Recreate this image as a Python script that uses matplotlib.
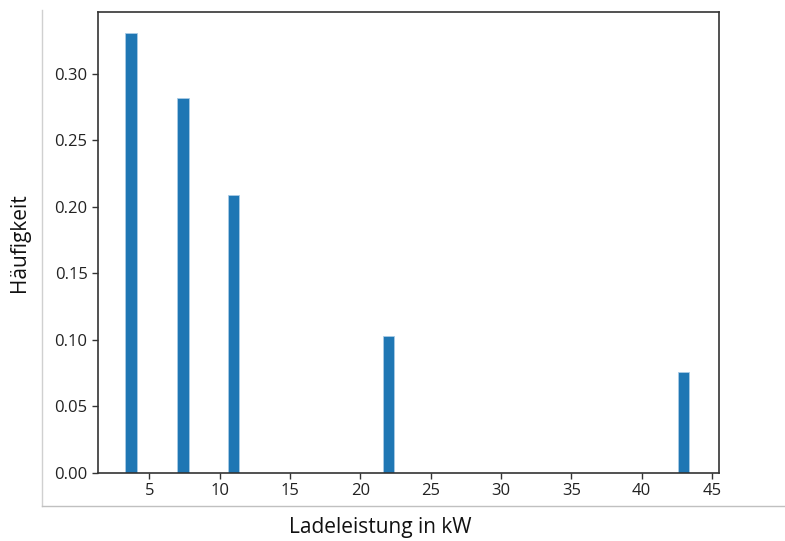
import matplotlib
matplotlib.use("Agg")
import matplotlib.pyplot as plt
from matplotlib.lines import Line2D

# Data
power_kw = [3.7, 7.4, 11, 22, 43]
frequency = [0.331, 0.282, 0.209, 0.103, 0.076]
x_ticks = [5, 10, 15, 20, 25, 30, 35, 40, 45]
y_ticks = [0.00, 0.05, 0.10, 0.15, 0.20, 0.25, 0.30]

fig = plt.figure(figsize=(7.85, 5.41), dpi=100)
ax = fig.add_axes([98/785, 1-473/541, (719-98)/785, (473-12)/541])
ax.bar(power_kw, frequency, width=0.8, color="#1f77b4", edgecolor="#a9cbe6", linewidth=0.6)
ax.set_xticks(x_ticks)
ax.set_yticks(y_ticks)
ax.set_yticklabels([f"{v:.2f}" for v in y_ticks])
ax.set_xlim(1.35, 45.5)
ax.set_ylim(0, 0.3466)
for lab in ax.get_xticklabels() + ax.get_yticklabels():
    lab.set_fontfamily("Open Sans")
    lab.set_fontsize(12)
    lab.set_color("#222222")
for s in ax.spines.values():
    s.set_color("#333333")
    s.set_linewidth(1.2)
ax.tick_params(color="#333333", width=1.0, length=4)

fig.text(20/785, 1-243/541, "Häufigkeit", rotation=90, ha="center", va="center",
         fontfamily="Open Sans", fontsize=15, color="#111111")
fig.text(380/785, 1-527/541, "Ladeleistung in kW", ha="center", va="center",
         fontfamily="Open Sans", fontsize=15, color="#111111")

# image border lines
fig.add_artist(Line2D([42/785, 42/785], [1-506/541, 1-10/541], transform=fig.transFigure,
                      color="#d0d0d0", linewidth=1))
fig.add_artist(Line2D([42/785, 1.0], [1-506/541, 1-506/541], transform=fig.transFigure,
                      color="#c0c0c0", linewidth=1))

fig.savefig("out.png", dpi=100)
